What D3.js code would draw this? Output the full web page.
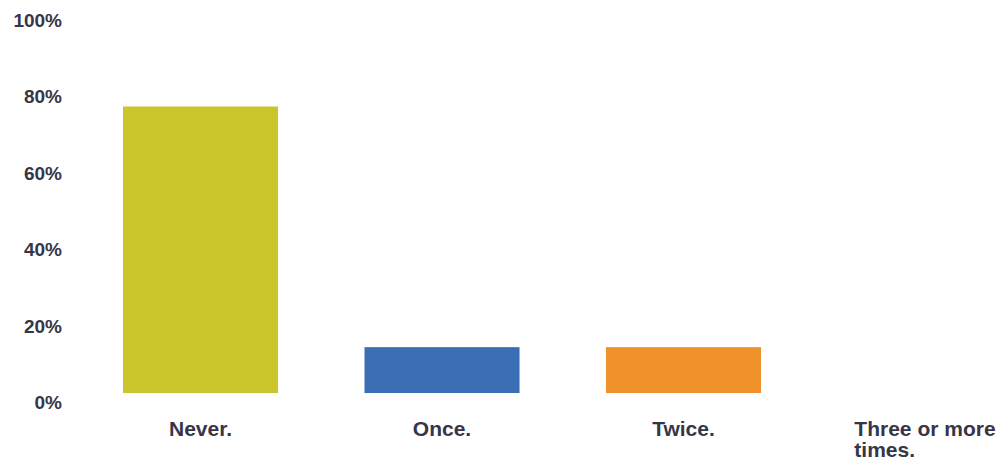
<!DOCTYPE html>
<html>
<head>
<meta charset="utf-8">
<script src="https://cdn.jsdelivr.net/npm/d3@7"></script>
<style>
  html, body { margin: 0; padding: 0; background: #fff; }
  svg { display: block; }
  text { font-family: "Liberation Sans", Arial, sans-serif; fill: #363648; }
</style>
</head>
<body>
<svg id="chart" width="1003" height="462"></svg>
<script>
// Survey responses: share of respondents per answer
const categories = ["Never.", "Once.", "Twice.", "Three or more times."];
const values = [75, 12, 12, 0];
const barColors = ["#c9c52a", "#3a6fb6", "#f0922c", "#9b9b9b"];
const tickValues = [0, 20, 40, 60, 80, 100];
const labelLines = [["Never."], ["Once."], ["Twice."], ["Three or more", "times."]];

const svg = d3.select("#chart");

const y = d3.scaleLinear().domain([0, 100]).range([393, 11]);
const x = d3.scaleBand()
  .domain(categories)
  .range([123, 1002.5])
  .paddingInner(0.358)
  .paddingOuter(0);

// Y-axis percentage labels (no axis line or gridlines)
const yAxis = d3.axisLeft(y)
  .tickValues(tickValues)
  .tickFormat(d => d + "%")
  .tickSize(0)
  .tickPadding(0);

const yg = svg.append("g")
  .attr("transform", "translate(62,9.5)")
  .call(yAxis);
yg.select(".domain").remove();
yg.selectAll("text")
  .attr("font-size", 19)
  .attr("font-weight", "bold")
  .attr("fill", "#363648")
  .attr("font-family", "Liberation Sans, Arial, sans-serif");

// Bars
svg.append("g")
  .selectAll("rect")
  .data(categories)
  .join("rect")
  .attr("x", d => x(d))
  .attr("width", x.bandwidth())
  .attr("y", (d, i) => y(values[i]))
  .attr("height", (d, i) => y(0) - y(values[i]))
  .attr("fill", (d, i) => barColors[i]);

// Category labels: each line its own text, the block centred under its bar
const labelG = svg.append("g");
categories.forEach((c, ci) => {
  const cx = x(c) + x.bandwidth() / 2;
  const texts = labelLines[ci].map((ln, i) =>
    labelG.append("text")
      .attr("font-size", 21)
      .attr("font-weight", "bold")
      .attr("y", 436 + i * 21)
      .text(ln)
  );
  const w = d3.max(texts, t => t.node().getComputedTextLength());
  texts.forEach(t => t.attr("x", cx - w / 2));
});
</script>
</body>
</html>
